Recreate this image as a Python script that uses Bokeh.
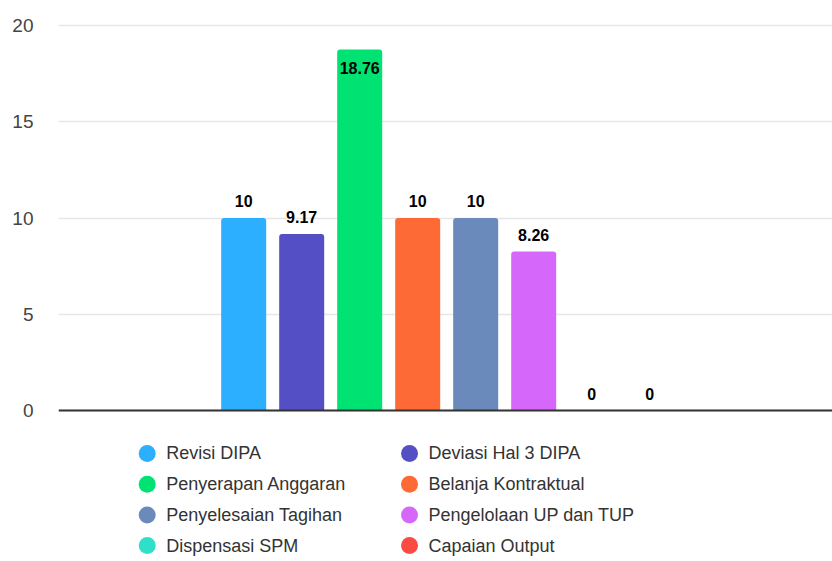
from bokeh.plotting import figure
from bokeh.models import Range1d, Span, ColumnDataSource, FixedTicker
from bokeh.core.properties import value
from bokeh.embed import file_html
from bokeh.resources import INLINE

# ---- data ----
series = ["Revisi DIPA", "Deviasi Hal 3 DIPA", "Penyerapan Anggaran",
          "Belanja Kontraktual", "Penyelesaian Tagihan",
          "Pengelolaan UP dan TUP", "Dispensasi SPM", "Capaian Output"]
values = [10, 9.17, 18.76, 10, 10, 8.26, 0, 0]
colors = ["#2caffe", "#544fc5", "#00e272", "#fe6a35",
          "#6b8abc", "#d568fb", "#2ee0ca", "#fa4b42"]
y_ticks = [0, 5, 10, 15, 20]
legend_cols = 2

FONT = "Liberation Sans"
W, H = 832, 561
PX_PER_UNIT = 19.25

p = figure(width=W, height=H, output_backend="svg", toolbar_location=None,
           x_range=Range1d(-3.193, 10.152), y_range=Range1d(-7.84, 21.30),
           min_border_left=58, min_border_right=0, min_border_top=0,
           min_border_bottom=0)
p.outline_line_color = None
p.background_fill_color = "white"
p.border_fill_color = "white"

# ranges for the legend block (column / row grid below the plot)
p.extra_x_ranges = {"leg_x": Range1d(-0.3382, 2.6126)}
p.extra_y_ranges = {"leg_y": Range1d(3.518, -14.756)}

p.xaxis.visible = False
p.xgrid.visible = False
p.ygrid.ticker = FixedTicker(ticks=y_ticks)
p.ygrid.grid_line_color = "#e6e6e6"
p.ygrid.grid_line_width = 1.5

ax = p.yaxis[0]
ax.ticker = FixedTicker(ticks=y_ticks)
ax.axis_line_color = None
ax.major_tick_line_color = None
ax.minor_tick_line_color = None
ax.major_tick_in = 0
ax.major_tick_out = 0
ax.major_label_standoff = 25
ax.major_label_text_font = FONT
ax.major_label_text_font_size = "19px"
ax.major_label_text_color = "#444444"

xs = list(range(len(series)))
label_room = 27 / PX_PER_UNIT
offsets = [19 if (v + label_room) > max(y_ticks) else -17 for v in values]
labels = [("%g" % v) for v in values]
src = ColumnDataSource(dict(x=xs, top=values, color=colors, name=series,
                            label=labels, off=offsets))

p.vbar(x="x", top="top", width=0.776, fill_color="color", line_color=None,
       source=src, border_radius=[3, 3, 0, 0])

p.add_layout(Span(location=0, dimension="width", line_color="#333333",
                  line_width=2))

p.text(x="x", y="top", text="label", y_offset="off", source=src,
       text_align="center", text_baseline="middle",
       text_font=value(FONT), text_font_style="bold",
       text_font_size="16px", text_color="#000000")

# legend: circles + labels, two columns, row-major order
leg = ColumnDataSource(dict(
    col=[i % legend_cols for i in xs],
    row=[i // legend_cols for i in xs],
    name=series, color=colors))
p.scatter(x="col", y="row", source=leg, marker="circle", size=17,
          fill_color="color", line_color=None,
          x_range_name="leg_x", y_range_name="leg_y")
p.text(x="col", y="row", text="name", source=leg, x_offset=19,
       text_baseline="middle", text_align="left",
       text_font=value(FONT), text_font_size="18px", text_color="#333333",
       x_range_name="leg_x", y_range_name="leg_y")

open("out.html", "w").write(file_html(p, INLINE))
